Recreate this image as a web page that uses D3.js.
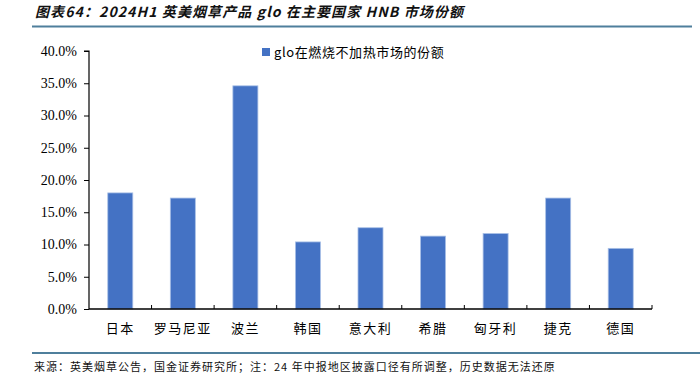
<!DOCTYPE html>
<html>
<head>
<meta charset="utf-8">
<script src="https://cdn.jsdelivr.net/npm/d3@7"></script>
<style>
  body { margin: 0; background: #fff; }
  svg { display: block; }
</style>
</head>
<body>
<svg id="chart" width="700" height="384"></svg>
<script>
// données
const pays = ["日本", "罗马尼亚", "波兰", "韩国", "意大利", "希腊", "匈牙利", "捷克", "德国"];
const partGlo = [18.0, 17.2, 34.6, 10.4, 12.6, 11.3, 11.7, 17.2, 9.4];
const yTicks = [0, 5, 10, 15, 20, 25, 30, 35, 40];
const serieNom = "glo在燃烧不加热市场的份额";
const titre = "图表64：2024H1 英美烟草产品 glo 在主要国家 HNB 市场份额";
const source = "来源：英美烟草公告，国金证券研究所；注：24 年中报地区披露口径有所调整，历史数据无法还原";

const svg = d3.select("#chart");
const cjk = "'Noto Sans CJK SC', sans-serif";
const serif = "'Liberation Serif', 'Times New Roman', serif";

// marges
const margin = { top: 51, left: 89, right: 48, bottom: 75 };
const width = 700 - margin.left - margin.right;
const height = 309 - margin.top;

const x = d3.scaleBand().domain(pays).range([0, width]).paddingInner(0.6).paddingOuter(0.3);
const xEdges = d3.scaleBand().domain(pays).range([0, width]);
const y = d3.scaleLinear().domain([0, 40]).range([height, 0]);

// titre + trait
svg.append("text")
    .attr("x", 35).attr("y", 17)
    .style("font-family", cjk)
    .style("font-size", "14px")
    .style("font-weight", "bold")
    .style("font-style", "italic")
    .style("letter-spacing", "1.1px")
    .attr("fill", "#111")
    .text(titre);
svg.append("line")
    .attr("x1", 32).attr("x2", 692).attr("y1", 26.5).attr("y2", 26.5)
    .attr("stroke", "#4f7f9c").attr("stroke-width", 2);

const g = svg.append("g").attr("transform", `translate(${margin.left},${margin.top})`);

// barres
g.selectAll(".bar")
    .data(partGlo)
    .enter().append("rect")
    .attr("class", "bar")
    .attr("x", (d, i) => x(pays[i]))
    .attr("y", d => y(d))
    .attr("width", x.bandwidth())
    .attr("height", d => height - y(d))
    .attr("fill", "#4472C4")
    .attr("stroke", "#a9c0e6")
    .attr("stroke-width", 0.8);

// axe y
const yAxis = g.append("g")
    .call(d3.axisLeft(y).tickValues(yTicks).tickSize(5).tickFormat(d => d.toFixed(1) + "%"));
yAxis.selectAll("text")
    .attr("fill", "#000")
    .attr("x", -12)
    .style("font-family", serif)
    .style("font-size", "14px");
yAxis.selectAll("line").attr("stroke", "#000");
yAxis.select(".domain").attr("d", `M-5,0H0V${height}`).attr("stroke", "#000").attr("stroke-width", 1.2);

// axe x
const xAxis = g.append("g").attr("transform", `translate(0,${height})`);
xAxis.append("line")
    .attr("x1", 0).attr("x2", width).attr("y1", 0).attr("y2", 0)
    .attr("stroke", "#000").attr("stroke-width", 1.5);
xAxis.selectAll(".tk")
    .data(pays)
    .enter().append("line")
    .attr("x1", d => xEdges(d) + xEdges.bandwidth())
    .attr("x2", d => xEdges(d) + xEdges.bandwidth())
    .attr("y1", 0).attr("y2", -4)
    .attr("stroke", "#000");
xAxis.selectAll(".lbl")
    .data(pays)
    .enter().append("text")
    .attr("x", d => x(d) + x.bandwidth() / 2)
    .attr("y", 24)
    .attr("text-anchor", "middle")
    .style("font-family", cjk)
    .style("font-size", "13px")
    .style("letter-spacing", "1.5px")
    .attr("fill", "#000")
    .text(d => d);

// légende
svg.append("rect")
    .attr("x", 262).attr("y", 48).attr("width", 8).attr("height", 8)
    .attr("fill", "#4472C4");
svg.append("text")
    .attr("x", 274).attr("y", 57)
    .style("font-family", cjk)
    .style("font-size", "13px")
    .style("letter-spacing", "0.6px")
    .attr("fill", "#000")
    .text(serieNom);

// source
svg.append("line")
    .attr("x1", 32).attr("x2", 700).attr("y1", 353).attr("y2", 353)
    .attr("stroke", "#4f7f9c").attr("stroke-width", 2);
svg.append("text")
    .attr("x", 34).attr("y", 371)
    .style("font-family", cjk)
    .style("font-size", "11px")
    .style("letter-spacing", "1px")
    .attr("fill", "#111")
    .text(source);
</script>
</body>
</html>
